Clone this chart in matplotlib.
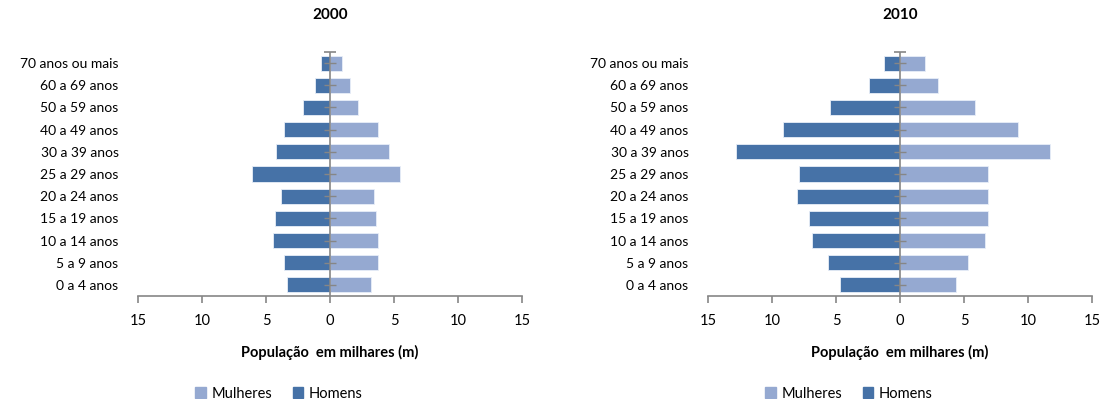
import numpy as np
import matplotlib.pyplot as plt
from matplotlib.patches import Patch

plt.rcParams['font.family'] = ['Lato', 'DejaVu Sans']

# Faixas etárias (de baixo para cima)
faixas = ['0 a 4 anos', '5 a 9 anos', '10 a 14 anos', '15 a 19 anos', '20 a 24 anos',
          '25 a 29 anos', '30 a 39 anos', '40 a 49 anos', '50 a 59 anos',
          '60 a 69 anos', '70 anos ou mais']

# População em milhares, 2000
homens_2000 = [3.33, 3.58, 4.46, 4.32, 3.80, 6.10, 4.19, 3.58, 2.08, 1.16, 0.67]
mulheres_2000 = [3.22, 3.72, 3.72, 3.60, 3.47, 5.49, 4.60, 3.72, 2.22, 1.58, 0.94]

# População em milhares, 2010
homens_2010 = [4.72, 5.62, 6.87, 7.11, 8.01, 7.87, 12.79, 9.15, 5.48, 2.44, 1.28]
mulheres_2010 = [4.37, 5.35, 6.65, 6.90, 6.90, 6.90, 11.70, 9.18, 5.89, 2.99, 1.95]

anos = ['2000', '2010']
xticks = [-15, -10, -5, 0, 5, 10, 15]

cor_homens = '#4672A7'
cor_mulheres = '#95A9D1'
cinza = '#868686'

fig = plt.figure(figsize=(11.07, 3.99), dpi=100)
W, H = 1107, 399
posicoes = [(138, 52, 384, 244), (708, 52, 384, 244)]

dados = [(homens_2000, mulheres_2000), (homens_2010, mulheres_2010)]
y = np.arange(len(faixas))

for (x0, y0, w, h), ano, (hom, mul) in zip(posicoes, anos, dados):
    ax = fig.add_axes([x0 / W, 1 - (y0 + h) / H, w / W, h / H])
    ax.barh(y, mul, height=0.68, color=cor_mulheres, edgecolor='#E8EEF8', linewidth=0.6)
    ax.barh(y, -np.array(hom), height=0.68, color=cor_homens, edgecolor='#E8EEF8', linewidth=0.6)

    ax.set_xlim(-15, 15)
    ax.set_ylim(-0.5, len(faixas) - 0.5)

    for s in ['top', 'right', 'left']:
        ax.spines[s].set_visible(False)
    ax.spines['bottom'].set_color(cinza)
    ax.spines['bottom'].set_linewidth(1.2)

    ax.set_xticks(xticks)
    ax.set_xticklabels([str(abs(v)) for v in xticks], fontsize=10.5)
    ax.tick_params(axis='x', direction='out', length=5, width=1.2, color=cinza, pad=8)

    ax.set_yticks(y)
    ax.set_yticklabels(faixas, fontsize=10)
    ax.tick_params(axis='y', length=0, pad=14)

    # eixo vertical no zero com marcas nas categorias
    ax.axvline(0, color=cinza, linewidth=1.2, zorder=3)
    ax.plot(np.zeros(len(y)), y, linestyle='none', marker='_', markersize=8,
            markeredgewidth=1.0, color=cinza, zorder=3, clip_on=False)
    ax.plot([0], [len(faixas) - 0.5], linestyle='none', marker='_', markersize=9,
            markeredgewidth=1.2, color=cinza, zorder=3, clip_on=False)

    ax.set_title(ano, fontsize=11, fontweight='bold', pad=24)
    ax.set_xlabel('População  em milhares (m)', fontsize=10.5, fontweight='bold', labelpad=12)

    handles = [Patch(color=cor_mulheres, label='Mulheres'),
               Patch(color=cor_homens, label='Homens')]
    ax.legend(handles=handles, loc='center', bbox_to_anchor=(0.367, -0.4), ncol=2,
              frameon=False, fontsize=10.5, handlelength=0.7, handleheight=0.7,
              handletextpad=0.4, columnspacing=1.4)

fig.savefig('out.png', dpi=100)
